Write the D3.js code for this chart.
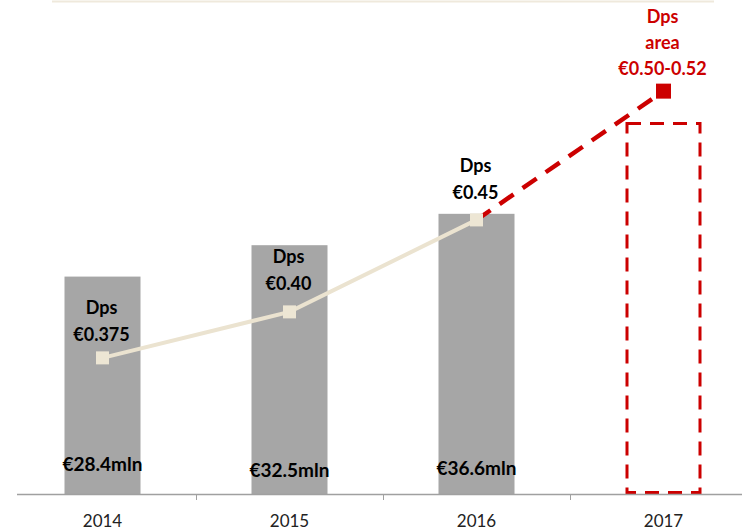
<!DOCTYPE html>
<html>
<head>
<meta charset="utf-8">
<script src="https://cdn.jsdelivr.net/npm/d3@7"></script>
<style>
  html, body { margin: 0; padding: 0; background: #fff; }
  svg { display: block; font-family: Lato, "Open Sans", sans-serif; }
</style>
</head>
<body>
<svg id="chart" width="742" height="531"></svg>
<script>
// Net profit (bars, € mln) and dividend per share (line, €)
const years = ["2014", "2015", "2016", "2017"];
const profit = [28.4, 32.5, 36.6];           // actual years
const profitTarget = 48.4;                   // 2017 outlook box height
const profitLabels = ["€28.4mln", "€32.5mln", "€36.6mln"];
const dps = [0.375, 0.40, 0.45];
const dpsTarget = 0.52;                      // top of 0.50-0.52 range
const dpsLabels = ["€0.375", "€0.40", "€0.45"];
const targetLabel = ["Dps", "area", "€0.50-0.52"];

const svg = d3.select("#chart");
const baseY = 494, topY = 1;
const red = "#cc0000";

const x = d3.scaleBand().domain(years).range([9, 757]).paddingInner(0).paddingOuter(0);
const yBar = d3.scaleLinear().domain([0, 64.4]).range([baseY, topY]);
const yDps = d3.scaleLinear().domain([0.301, 0.569]).range([baseY, topY]);
const barW = 76;
const cx = d => x(d) + x.bandwidth() / 2;

// top frame line
svg.append("line").attr("x1", 52).attr("x2", 714).attr("y1", 1.5).attr("y2", 1.5)
  .attr("stroke", "#efe9dc").attr("stroke-width", 2);

// bars
svg.selectAll("rect.bar").data(profit).join("rect").attr("class", "bar")
  .attr("x", (d, i) => cx(years[i]) - barW / 2)
  .attr("width", barW)
  .attr("y", d => yBar(d))
  .attr("height", d => baseY - yBar(d))
  .attr("fill", "#a6a6a6");

// 2017 outlook box
svg.append("rect")
  .attr("x", cx("2017") - barW / 2 + 1.5)
  .attr("width", barW - 3)
  .attr("y", yBar(profitTarget))
  .attr("height", baseY - yBar(profitTarget) - 1.5)
  .attr("fill", "none").attr("stroke", red).attr("stroke-width", 3)
  .attr("stroke-dasharray", "14,9");

// x axis
const ax = svg.append("g").attr("transform", `translate(0,${baseY})`);
ax.append("line").attr("x1", 17).attr("x2", 742).attr("y1", 0.5).attr("y2", 0.5)
  .attr("stroke", "#a0a0a0").attr("stroke-width", 1.5);
ax.selectAll("line.tick").data(years.slice(1)).join("line").attr("class", "tick")
  .attr("x1", d => Math.round(x(d)) + 0.5).attr("x2", d => Math.round(x(d)) + 0.5)
  .attr("y1", 0).attr("y2", 6).attr("stroke", "#a0a0a0").attr("stroke-width", 1);
ax.selectAll("text.year").data(years).join("text").attr("class", "year")
  .attr("x", d => cx(d)).attr("y", 33)
  .attr("text-anchor", "middle").attr("font-size", 17).attr("fill", "#222")
  .text(d => d);

// profit labels
svg.selectAll("text.profit").data(profitLabels).join("text").attr("class", "profit")
  .attr("x", (d, i) => cx(years[i]))
  .attr("y", (d, i) => [471, 477, 475][i])
  .attr("text-anchor", "middle").attr("font-size", 19).attr("font-weight", 700)
  .attr("fill", "#000").text(d => d);

// projected dps dashed segment
svg.append("line")
  .attr("x1", cx("2016")).attr("y1", yDps(dps[2]))
  .attr("x2", cx("2017")).attr("y2", yDps(dpsTarget))
  .attr("stroke", red).attr("stroke-width", 4.5)
  .attr("stroke-dasharray", "17,11");
svg.append("rect")
  .attr("x", cx("2017") - 7.5).attr("y", yDps(dpsTarget) - 7.5)
  .attr("width", 15).attr("height", 15).attr("fill", red);

// dps line
const line = d3.line().x((d, i) => cx(years[i])).y(d => yDps(d));
svg.append("path").datum(dps).attr("d", line)
  .attr("fill", "none").attr("stroke", "#ebe3d0").attr("stroke-width", 4);
svg.selectAll("rect.mk").data(dps).join("rect").attr("class", "mk")
  .attr("x", (d, i) => cx(years[i]) - 6.5).attr("y", d => yDps(d) - 6.5)
  .attr("width", 13).attr("height", 13).attr("fill", "#ede6d4");

// dps labels
const dpsLabelY = [314, 263, 172];
dpsLabels.forEach((lab, i) => {
  const t = svg.append("text").attr("text-anchor", "middle")
    .attr("font-size", 18).attr("font-weight", 700).attr("fill", "#000");
  t.append("tspan").attr("x", cx(years[i]) - 1).attr("y", dpsLabelY[i]).text("Dps");
  t.append("tspan").attr("x", cx(years[i]) - 1).attr("y", dpsLabelY[i] + 27).text(lab);
});

// 2017 target label
const tt = svg.append("text").attr("text-anchor", "middle")
  .attr("font-size", 18).attr("font-weight", 700).attr("fill", red);
targetLabel.forEach((s, i) => {
  tt.append("tspan").attr("x", cx("2017") - 1).attr("y", 23 + i * 26).text(s);
});
</script>
</body>
</html>
